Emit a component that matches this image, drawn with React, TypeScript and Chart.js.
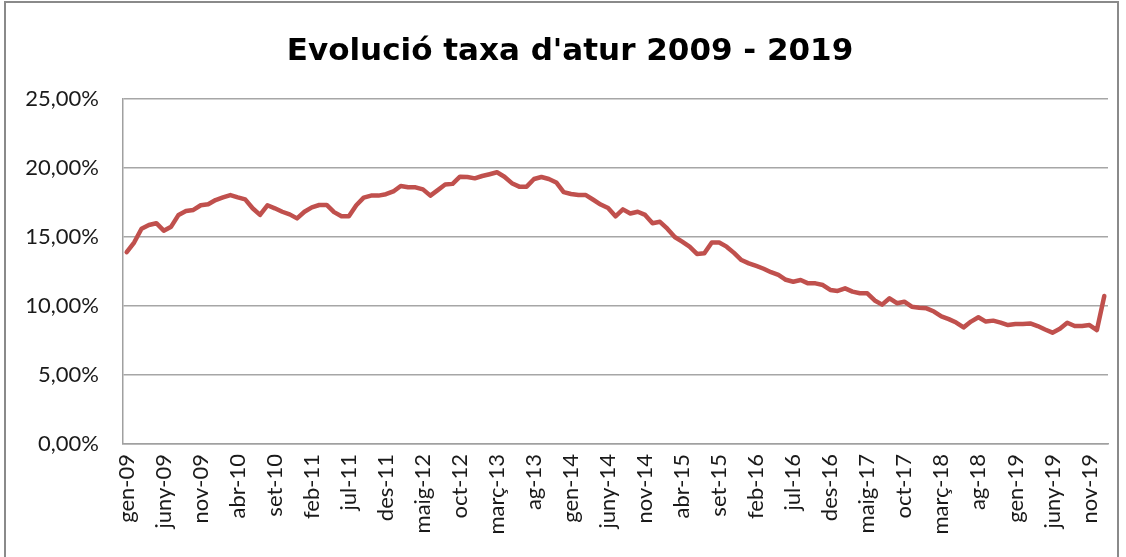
import React, { useEffect, useRef } from "react";
import { Chart, registerables } from "chart.js";

Chart.register(...registerables);

const TITLE = "Evolució taxa d'atur 2009 - 2019";
const MONTHS = ["gen", "feb", "març", "abr", "maig", "juny", "jul", "ag", "set", "oct", "nov", "des"];
const YEARS = ["09", "10", "11", "12", "13", "14", "15", "16", "17", "18", "19", "20"];

// Taxa d'atur mensual (%)
const RATE_2009 = [13.9, 14.6, 15.6, 15.87, 16.0, 15.46, 15.75, 16.6, 16.88, 16.96, 17.3, 17.37];
const RATE_2010 = [17.68, 17.87, 18.04, 17.87, 17.73, 17.08, 16.6, 17.3, 17.08, 16.83, 16.64, 16.35];
const RATE_2011 = [16.83, 17.15, 17.32, 17.32, 16.8, 16.5, 16.5, 17.3, 17.85, 18.0, 18.0, 18.1];
const RATE_2012 = [18.3, 18.7, 18.6, 18.6, 18.45, 18.0, 18.4, 18.8, 18.85, 19.37, 19.35, 19.25];
const RATE_2013 = [19.42, 19.55, 19.69, 19.37, 18.9, 18.65, 18.65, 19.2, 19.35, 19.2, 18.95, 18.25];
const RATE_2014 = [18.12, 18.04, 18.04, 17.7, 17.35, 17.1, 16.5, 17.0, 16.7, 16.83, 16.6, 16.0];
const RATE_2015 = [16.1, 15.6, 15.0, 14.66, 14.3, 13.77, 13.82, 14.6, 14.6, 14.3, 13.85, 13.33];
const RATE_2016 = [13.09, 12.9, 12.7, 12.45, 12.25, 11.9, 11.76, 11.88, 11.64, 11.64, 11.52, 11.16];
const RATE_2017 = [11.09, 11.28, 11.04, 10.92, 10.92, 10.4, 10.1, 10.56, 10.2, 10.31, 9.95, 9.88];
const RATE_2018 = [9.83, 9.6, 9.25, 9.05, 8.8, 8.45, 8.87, 9.18, 8.87, 8.94, 8.8, 8.62];
const RATE_2019 = [8.7, 8.7, 8.74, 8.55, 8.3, 8.07, 8.35, 8.79, 8.55, 8.55, 8.62, 8.26];
const RATE_2020 = [10.72];

const VALUES = [
  ...RATE_2009, ...RATE_2010, ...RATE_2011, ...RATE_2012, ...RATE_2013, ...RATE_2014,
  ...RATE_2015, ...RATE_2016, ...RATE_2017, ...RATE_2018, ...RATE_2019, ...RATE_2020,
];
const LABELS: string[] = [];
YEARS.forEach((y) => MONTHS.forEach((m) => LABELS.push(`${m}-${y}`)));
LABELS.length = VALUES.length;

const Y_TICKS = [0, 5, 10, 15, 20, 25];

const W = 1126;
const H = 557;

const frame = {
  id: "frame",
  beforeDraw(chart: any) {
    const { ctx } = chart;
    ctx.save();
    ctx.fillStyle = "#ffffff";
    ctx.fillRect(0, 0, W, H);
    ctx.restore();
  },
  afterDraw(chart: any) {
    const { ctx } = chart;
    ctx.save();
    ctx.fillStyle = "#000000";
    ctx.font = "bold 31px 'DejaVu Sans', sans-serif";
    ctx.textAlign = "center";
    ctx.textBaseline = "alphabetic";
    ctx.fillText(TITLE, 570, 60);
    ctx.strokeStyle = "#8a8a8a";
    ctx.lineWidth = 2;
    ctx.strokeRect(5, 2, 1113, 580);
    ctx.restore();
  },
};

export default function App() {
  const ref = useRef<HTMLCanvasElement>(null);
  useEffect(() => {
    if (!ref.current) return;
    const tickFont = { family: "Lato, 'Open Sans', sans-serif", size: 22 };
    const chart = new Chart(ref.current, {
      type: "line",
      data: {
        labels: LABELS,
        datasets: [
          {
            data: VALUES,
            borderColor: "#C0504D",
            borderWidth: 4.5,
            pointRadius: 0,
            tension: 0,
            borderJoinStyle: "round",
            borderCapStyle: "round",
            fill: false,
          },
        ],
      },
      options: {
        responsive: false,
        animation: false,
        layout: { padding: { left: 0, right: 18, top: 99, bottom: 0 } },
        plugins: {
          legend: { display: false },
          tooltip: { enabled: false },
          title: { display: false },
        },
        scales: {
          x: {
            type: "category",
            offset: true,
            grid: { display: false, drawTicks: false },
            border: { display: true, color: "#a0a0a0", width: 1.5 },
            ticks: {
              autoSkip: false,
              minRotation: 90,
              maxRotation: 90,
              padding: 10,
              color: "#1a1a1a",
              font: tickFont,
              callback: (_v: any, i: number) => (i % 5 === 0 ? LABELS[i] : ""),
            },
            afterFit: (scale: any) => {
              scale.height = 113;
              scale.paddingLeft = 0;
              scale.paddingRight = 0;
            },
          },
          y: {
            min: 0,
            max: 25,
            afterBuildTicks: (scale: any) => {
              scale.ticks = Y_TICKS.map((v) => ({ value: v }));
            },
            grid: { color: "#a6a6a6", lineWidth: 1.5, drawTicks: false },
            border: { display: true, color: "#a0a0a0", width: 1.5 },
            ticks: {
              padding: 24,
              color: "#1a1a1a",
              font: tickFont,
              callback: (v: any) => Number(v).toFixed(2).replace(".", ",") + "%",
            },
            afterFit: (scale: any) => {
              scale.width = 123;
              scale.paddingTop = 0;
              scale.paddingBottom = 0;
            },
          },
        },
      },
      plugins: [frame],
    });
    return () => chart.destroy();
  }, []);

  return (
    <div style={{ position: "fixed", left: 0, top: 0, width: W, height: H, background: "#fff" }}>
      <canvas ref={ref} width={W} height={H} style={{ display: "block", width: W, height: H }} />
    </div>
  );
}
